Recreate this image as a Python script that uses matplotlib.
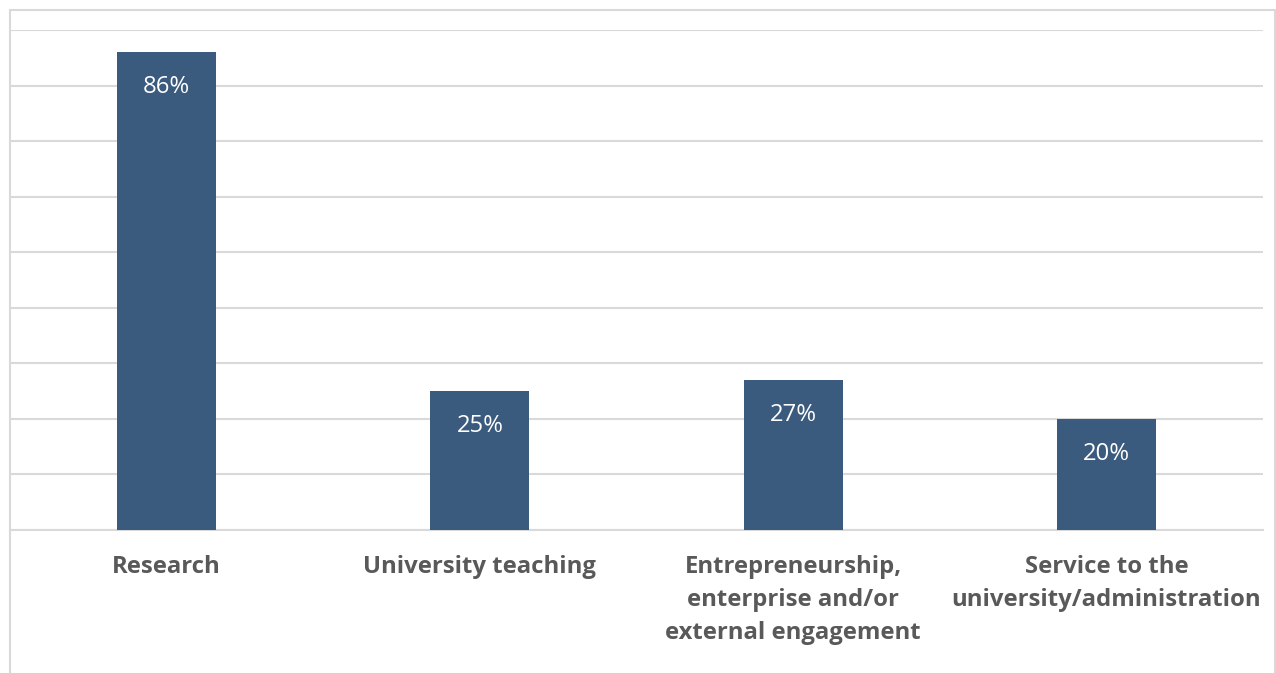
import matplotlib.pyplot as plt
from matplotlib.patches import Rectangle

plt.rcParams['font.family'] = ['Open Sans', 'DejaVu Sans']

categories = ['Research', 'University teaching',
              'Entrepreneurship,\nenterprise and/or\nexternal engagement',
              'Service to the\nuniversity/administration']
values = [86, 25, 27, 20]
value_labels = ['86%', '25%', '27%', '20%']

bar_color = '#3a5a7e'
grid_color = '#d9d9d9'
text_color = '#595959'

W, H = 1276, 673
fig = plt.figure(figsize=(W / 100, H / 100), dpi=100)

# outer frame, runs off the bottom edge
fig.patches.append(Rectangle((10 / W, -0.1), 1265 / W, 1.1 - 10 / H,
                             transform=fig.transFigure, fill=False,
                             edgecolor=grid_color, linewidth=1.5))

ax = fig.add_axes([10 / W, (H - 530) / H, 1253 / W, 500 / H])
x = range(len(categories))
bars = ax.bar(x, values, width=0.316, color=bar_color, zorder=3)

ax.set_ylim(0, 90)
ax.set_xlim(-0.5, len(categories) - 0.5)
ax.set_yticks(range(0, 91, 10))
ax.yaxis.grid(True, color=grid_color, linewidth=1.5)
ax.set_axisbelow(True)
ax.tick_params(axis='y', left=False, labelleft=False)
ax.tick_params(axis='x', length=0, pad=18)
ax.set_xticks(list(x))
ax.set_xticklabels(categories, fontsize=17.2, fontweight='bold',
                   color=text_color, linespacing=1.5, va='top')
for s in ['left', 'right', 'top']:
    ax.spines[s].set_visible(False)
ax.spines['bottom'].set_color(grid_color)
ax.spines['bottom'].set_linewidth(1.5)

for b, v, lab in zip(bars, values, value_labels):
    ax.annotate(lab, (b.get_x() + b.get_width() / 2, v),
                xytext=(0, -25), textcoords='offset points',
                ha='center', va='center', color='white', fontsize=17.2,
                zorder=4)

fig.savefig('out.png', dpi=100)
